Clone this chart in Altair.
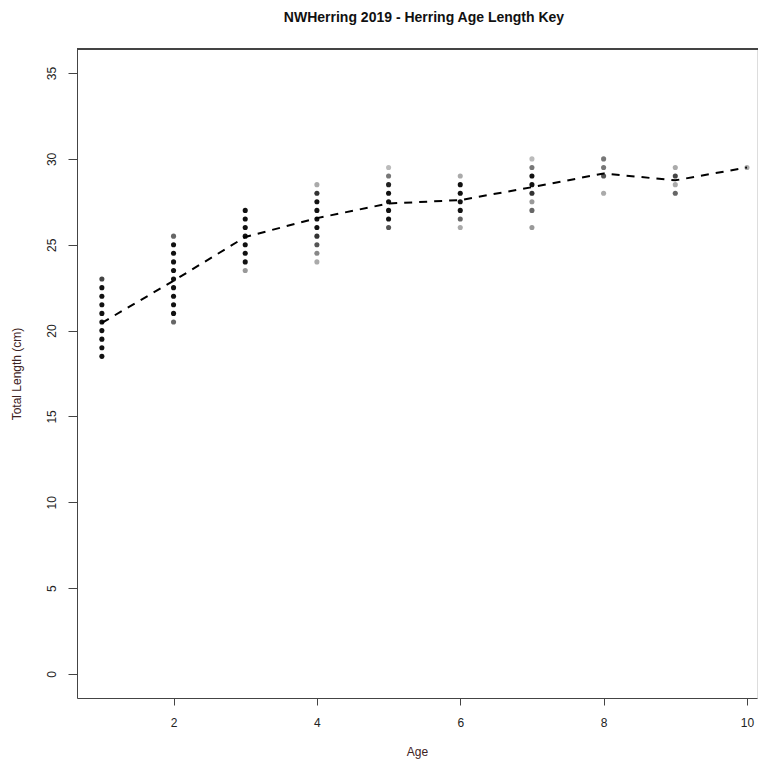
import altair as alt
import pandas as pd

# Per-point observations (age, total length, shade as drawn)
pt_age = ([1] * 10 + [2] * 11 + [3] * 8 + [4] * 10 + [5] * 8 + [6] * 7 +
          [7] * 8 + [8] * 4 + [9] * 4 + [10] * 1)
pt_len = [
    23.0, 22.5, 22.0, 21.5, 21.0, 20.5, 20.0, 19.5, 19.0, 18.5,
    25.5, 25.0, 24.5, 24.0, 23.5, 23.0, 22.5, 22.0, 21.5, 21.0, 20.5,
    27.0, 26.5, 26.0, 25.5, 25.0, 24.5, 24.0, 23.5,
    28.5, 28.0, 27.5, 27.0, 26.5, 26.0, 25.5, 25.0, 24.5, 24.0,
    29.5, 29.0, 28.5, 28.0, 27.5, 27.0, 26.5, 26.0,
    29.0, 28.5, 28.0, 27.5, 27.0, 26.5, 26.0,
    30.0, 29.5, 29.0, 28.5, 28.0, 27.5, 27.0, 26.0,
    30.0, 29.5, 29.0, 28.0,
    29.5, 29.0, 28.5, 28.0,
    29.5,
]
pt_shade = [
    "#444444", "#111111", "#111111", "#111111", "#111111", "#111111", "#111111", "#111111", "#111111", "#111111",
    "#666666", "#111111", "#111111", "#111111", "#111111", "#111111", "#111111", "#111111", "#111111", "#111111", "#666666",
    "#111111", "#111111", "#111111", "#111111", "#111111", "#111111", "#111111", "#999999",
    "#aaaaaa", "#333333", "#111111", "#111111", "#111111", "#111111", "#333333", "#555555", "#888888", "#aaaaaa",
    "#bbbbbb", "#777777", "#222222", "#111111", "#111111", "#111111", "#111111", "#555555",
    "#aaaaaa", "#111111", "#111111", "#111111", "#111111", "#666666", "#aaaaaa",
    "#bbbbbb", "#777777", "#111111", "#111111", "#333333", "#999999", "#666666", "#999999",
    "#777777", "#777777", "#555555", "#aaaaaa",
    "#aaaaaa", "#444444", "#aaaaaa", "#666666",
    "#aaaaaa",
]

# Mean length at age
mean_age = [1, 2, 3, 4, 5, 6, 7, 8, 9, 10]
mean_len = [20.45, 22.9, 25.45, 26.55, 27.4, 27.6, 28.35, 29.15, 28.75, 29.5]

x_ticks = [2, 4, 6, 8, 10]
y_ticks = [0, 5, 10, 15, 20, 25, 30, 35]

pts = pd.DataFrame({"age": pt_age, "len": pt_len, "shade": pt_shade})
means = pd.DataFrame({"age": mean_age, "len": mean_len})

W, H = 680, 649
FONT = "Liberation Sans"

xscale = alt.Scale(domain=[0.653, 10.14], nice=False, zero=False)
yscale = alt.Scale(domain=[-1.4, 36.4], nice=False, zero=False)

xaxis = alt.Axis(values=x_ticks, format="d", title="Age", grid=False, domainColor="#444444",
                 tickColor="#444444", tickSize=7, labelPadding=12, labelFontSize=12,
                 labelColor="#222222", labelFont=FONT, titleFont=FONT, titleFontSize=12,
                 titleFontWeight="normal", titleColor="#3d2222", titlePadding=18,
                 labelFlush=False)
yaxis = alt.Axis(values=y_ticks, format="d", title="Total Length (cm)", grid=False,
                 domainColor="#444444", tickColor="#444444", tickSize=9, labelAngle=270,
                 labelAlign="center", labelBaseline="bottom", labelPadding=10, labelFontSize=12,
                 labelColor="#222222", labelFont=FONT, titleFont=FONT, titleFontSize=12,
                 titleFontWeight="normal", titleColor="#3d2222", titlePadding=22,
                 labelFlush=False)

points = alt.Chart(pts).mark_circle(size=26, opacity=1).encode(
    x=alt.X("age:Q", scale=xscale, axis=xaxis),
    y=alt.Y("len:Q", scale=yscale, axis=yaxis),
    color=alt.Color("shade:N", scale=None),
)

line = alt.Chart(means).mark_line(color="black", strokeWidth=2, strokeDash=[8, 7]).encode(
    x=alt.X("age:Q", scale=xscale),
    y=alt.Y("len:Q", scale=yscale),
)

top_rule = alt.Chart(means).mark_rule(color="#444444", strokeWidth=1).encode(
    x=alt.value(0), x2=alt.value(W + 1), y=alt.value(0)
)

chart = alt.layer(points, line, top_rule).properties(
    width=W, height=H,
    title=alt.TitleParams("NWHerring 2019 - Herring Age Length Key", font=FONT,
                          fontSize=14, fontWeight="bold", color="#111111",
                          anchor="middle", offset=24, dx=7),
    autosize=alt.AutoSizeParams(type="none"),
    padding={"left": 69, "top": 41, "right": 1, "bottom": 61},
).configure_view(stroke=None).configure(background="white")

chart.save("out.html", embed_options={"renderer": "svg", "actions": False})
